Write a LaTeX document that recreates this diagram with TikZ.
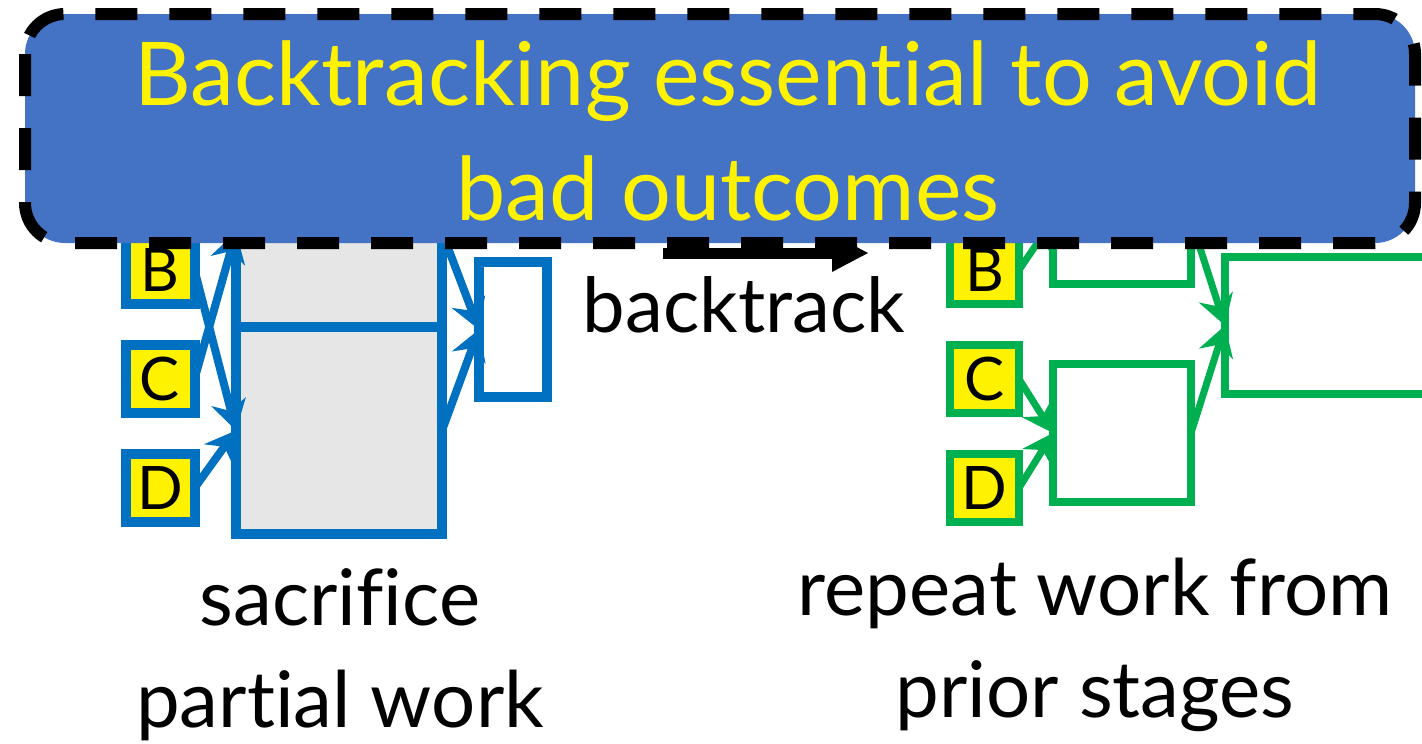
\documentclass[tikz,border=0pt]{standalone}
\usepackage{fontspec}
\setmainfont{Lato}[Ligatures={NoCommon}]
\usetikzlibrary{arrows.meta}
\definecolor{bannerblue}{HTML}{4472C4}
\definecolor{lineblue}{HTML}{0070C0}
\definecolor{linegreen}{HTML}{00B050}
\definecolor{partgray}{HTML}{E6E6E6}

\begin{document}
\begin{tikzpicture}[x=1pt, y=-1pt,
    letter/.style={fill=yellow, minimum width=69pt, minimum height=68pt, inner sep=0pt, outer sep=0pt, font=\fontsize{60}{60}\selectfont},
    stage/.style={minimum width=#1, inner sep=0pt, outer sep=0pt},
    bluearrow/.style={lineblue, line width=8pt, -{Stealth[length=30pt, width=36pt, inset=10pt, line width=0pt]}},
    greenarrow/.style={linegreen, line width=7pt, -{Stealth[length=30pt, width=36pt, inset=10pt, line width=0pt]}},
    caption/.style={align=center, font=\fontsize{78}{102}\selectfont}]
    \useasboundingbox (0,0) rectangle (1422,744);
    \clip (0,0) rectangle (1422,744);

    % blue: sacrifice partial work
    \foreach \name/\y in {B/270, C/379, D/488}
        \node[letter, draw=lineblue, line width=10pt] (b\name) at (160,\y) {\name};
    \node[stage=206pt, minimum height=190pt, draw=lineblue, line width=10pt, fill=partgray] (ptop) at (339,232) {};
    \node[stage=206pt, minimum height=207pt, draw=lineblue, line width=10pt, fill=partgray] (pbot) at (339,430.5) {};
    \node[stage=68pt, minimum height=135pt, draw=lineblue, line width=10pt] (pout) at (513,329.5) {};
    \draw[bluearrow] (bB.east) -- (pbot.west);
    \draw[bluearrow] (bC.east) -- (ptop.west);
    \draw[bluearrow] (bD.east) -- (pbot.west);
    \draw[bluearrow] (ptop.east) -- (pout.west);
    \draw[bluearrow] (pbot.east) -- (pout.west);

    % backtrack
    \coordinate (bk1) at (663,253);
    \coordinate (bk2) at (868,253);
    \draw[line width=11pt, -{Triangle[length=36pt, width=38pt, line width=0pt]}] (bk1) -- (bk2);
    \node[anchor=base, font=\fontsize{76}{76}\selectfont] (bklabel) at (744,332) {backtrack};

    % green: repeat work
    \foreach \name/\y in {B/270, C/379, D/488}
        \node[letter, draw=linegreen, line width=8pt] (g\name) at (984.5,\y) {\name};
    \node[stage=138pt, minimum height=128pt, draw=linegreen, line width=8pt] (gtop) at (1122,220) {};
    \node[stage=138pt, minimum height=138pt, draw=linegreen, line width=8pt] (gbot) at (1122,433) {};
    \node[stage=275pt, minimum height=137pt, draw=linegreen, line width=8pt] (gout) at (1362.5,325.5) {};
    \draw[greenarrow] (gB.east) -- (gtop.west);
    \draw[greenarrow] (gC.east) -- (gbot.west);
    \draw[greenarrow] (gD.east) -- (gbot.west);
    \draw[greenarrow] (gtop.east) -- (gout.west);
    \draw[greenarrow] (gbot.east) -- (gout.west);

    \node[caption] (lcap) at (340,655) {sacrifice\\partial work};
    \node[caption] (rcap) at (1095,645) {repeat work from\\prior stages};

    % banner on top
    \draw[fill=bannerblue, line width=12pt, dash pattern=on 42pt off 32pt, rounded corners=40pt] (25,14) rectangle (1415,243);
    \node[align=center, text=yellow, font=\fontsize{88}{115}\selectfont] (msg) at (728,131) {Backtracking essential to avoid\\bad outcomes};
\end{tikzpicture}
\end{document}
